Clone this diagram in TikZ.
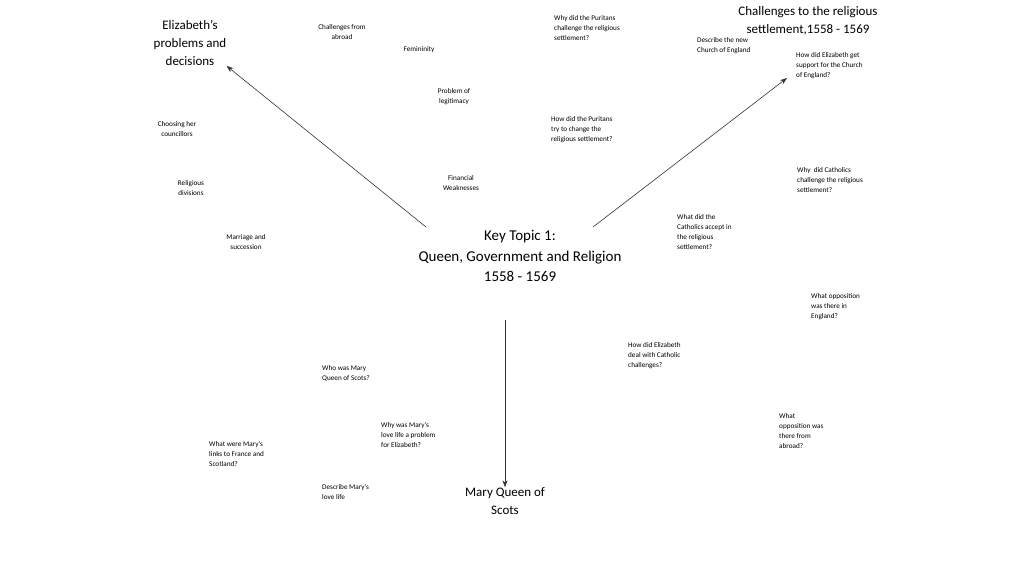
\documentclass[tikz,border=0pt]{standalone}
\usepackage{fontspec}
\setmainfont{Carlito}
\usetikzlibrary{arrows.meta}
\begin{document}
\begin{tikzpicture}[x=1pt,y=-1pt,
  sm/.style={inner sep=0pt,font=\fontsize{7.2}{10}\selectfont},
  sl/.style={sm,align=left,anchor=north west},
  sc/.style={sm,align=center},
  hd/.style={inner sep=0pt,align=center,font=\fontsize{13}{18}\selectfont},
  arr/.style={draw=black!80,line width=0.6pt,-{Stealth[length=7pt,width=5pt]}}]
\useasboundingbox (0,0) rectangle (1024,576);
\node[hd] (eliz) at (190,43) {Elizabeth’s\\problems and\\decisions};
\node[hd] (chal) at (808,21) {Challenges to the religious\\settlement,1558 - 1569};
\node[inner sep=0pt,align=center,font=\fontsize{15}{20.5}\selectfont] (key) at (520,256) {Key Topic 1:\\Queen, Government and Religion\\1558 - 1569};
\node[hd] (mary) at (505,501) {Mary Queen of\\Scots};
\coordinate (a1) at (426,227); \coordinate (a2) at (593,227); \coordinate (a3) at (505,320);
\draw[arr] (a1) -- (eliz.south east);
\draw[arr] (a2) -- (787,78);
\draw[arr] (a3) -- (mary.north);
\node[sc] (t1) at (342,32) {Challenges from\\abroad};
\node[sc] (t2) at (419,50) {Femininity};
\node[sl] (t3) at (554,15) {Why did the Puritans\\challenge the religious\\settlement?};
\node[sl] (t4) at (697,37) {Describe the new\\Church of England};
\node[sl] (t5) at (796,52) {How did Elizabeth get\\support for the Church\\of England?};
\node[sc] (t6) at (454,97) {Problem of\\legitimacy};
\node[sc] (t7) at (177,129) {Choosing her\\councillors};
\node[sl] (t8) at (551,116) {How did the Puritans\\try to change the\\religious settlement?};
\node[sc] (t9) at (191,188) {Religious\\divisions};
\node[sc] (t10) at (461,183) {Financial\\Weaknesses};
\node[sl] (t11) at (797,167) {Why\ \ did Catholics\\challenge the religious\\settlement?};
\node[sl] (t12) at (677,214) {What did the\\Catholics accept in\\the religious\\settlement?};
\node[sc] (t13) at (246,242) {Marriage and\\succession};
\node[sl] (t14) at (811,293) {What opposition\\was there in\\England?};
\node[sl] (t15) at (628,342) {How did Elizabeth\\deal with Catholic\\challenges?};
\node[sl] (t16) at (322,365) {Who was Mary\\Queen of Scots?};
\node[sl] (t17) at (779,413) {What\\opposition was\\there from\\abroad?};
\node[sl] (t18) at (381,422) {Why was Mary’s\\love life a problem\\for Elizabeth?};
\node[sl] (t19) at (209,441) {What were Mary’s\\links to France and\\Scotland?};
\node[sl] (t20) at (322,484) {Describe Mary’s\\love life};
\end{tikzpicture}
\end{document}
